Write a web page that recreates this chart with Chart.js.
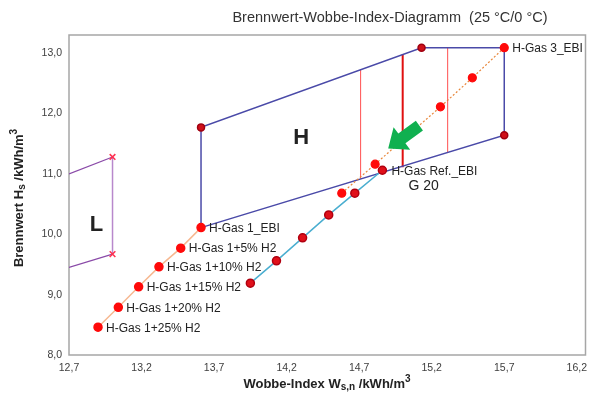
<!DOCTYPE html>
<html>
<head>
<meta charset="utf-8">
<script src="https://cdn.jsdelivr.net/npm/chart.js@4"></script>
<style>
  html, body { margin: 0; padding: 0; background: #fff; }
  canvas { display: block; }
</style>
</head>
<body>
<canvas id="c" width="591" height="394"></canvas>
<script>
// ===== DATA =====
const xTicks = [12.7, 13.2, 13.7, 14.2, 14.7, 15.2, 15.7, 16.2];
const yTicks = [8, 9, 10, 11, 12, 13];

// H-Gas 1 with H2 admixture
const h1Wobbe = [12.90, 13.04, 13.18, 13.32, 13.47, 13.61];
const h1Hs    = [8.46, 8.79, 9.13, 9.46, 9.77, 10.11];
const h1Labels = ["H-Gas 1+25% H2", "H-Gas 1+20% H2", "H-Gas 1+15% H2", "H-Gas 1+10% H2", "H-Gas 1+5% H2", "H-Gas 1_EBI"];

// H-Gas Ref. (G 20) with H2 admixture
const refWobbe = [13.95, 14.13, 14.31, 14.49, 14.67, 14.86];
const refHs    = [9.19, 9.56, 9.94, 10.32, 10.68, 11.06];

// H-Gas 3 line (dotted)
const h3Wobbe = [14.58, 14.81, 15.26, 15.48, 15.70];
const h3Hs    = [10.68, 11.16, 12.11, 12.59, 13.09];

// H-range polygon
const hPolyWobbe = [13.61, 13.61, 15.13, 15.70, 15.70, 13.61];
const hPolyHs    = [10.11, 11.77, 13.09, 13.09, 11.64, 10.11];

// red vertical limits inside H range
const limWobbe  = [14.71, 15.00, 15.31];
const limTop    = [12.73, 12.98, 13.09];
const limBottom = [10.92, 11.11, 11.35];

// L-range (clipped at axis)
const lUpperWobbe = [12.70, 13.00];
const lUpperHs    = [11.00, 11.28];
const lLowerWobbe = [12.70, 13.00];
const lLowerHs    = [9.45, 9.67];

// ===== HELPERS =====
const pts = (xs, ys) => xs.map((x, i) => ({ x, y: ys[i] }));
const fmt = (v) => v.toFixed(1).replace(".", ",");
const FONT = "'Liberation Sans', Arial, sans-serif";

function richText(ctx, parts, x, y, size) {
  // parts: [text, kind] kind: "n" | "sub" | "sup"; centered on x
  const sizes = { n: size, sub: size - 3, sup: size - 3 };
  let w = 0;
  parts.forEach(([t, k]) => { ctx.font = `bold ${sizes[k]}px ${FONT}`; w += ctx.measureText(t).width; });
  let cx = x - w / 2;
  parts.forEach(([t, k]) => {
    ctx.font = `bold ${sizes[k]}px ${FONT}`;
    const dy = k === "sub" ? 3 : k === "sup" ? -5 : 0;
    ctx.fillText(t, cx, y + dy);
    cx += ctx.measureText(t).width;
  });
}

const limDatasets = limWobbe.map((x, i) => ({
  data: [{ x, y: limBottom[i] }, { x, y: limTop[i] }],
  showLine: true,
  borderColor: i === 1 ? "#e01010" : "#ff5050",
  borderWidth: i === 1 ? 2 : 1,
  pointRadius: 0,
  order: 5
}));

const decor = {
  id: "decor",
  beforeDatasetsDraw(chart) {
    const { ctx, chartArea: a } = chart;
    ctx.save();
    ctx.strokeStyle = "#a6a6a6";
    ctx.lineWidth = 1.5;
    ctx.strokeRect(a.left, a.top, a.right - a.left, a.bottom - a.top);
    ctx.restore();
  },
  afterDraw(chart) {
    const { ctx } = chart;
    const xs = chart.scales.x, ys = chart.scales.y;
    const px = (v) => xs.getPixelForValue(v), py = (v) => ys.getPixelForValue(v);
    ctx.save();
    ctx.fillStyle = "#222";
    ctx.textBaseline = "middle";
    ctx.textAlign = "left";
    ctx.font = `12px ${FONT}`;
    h1Labels.forEach((t, i) => ctx.fillText(t, px(h1Wobbe[i]) + 8, py(h1Hs[i]) + 1));
    ctx.fillText("H-Gas 3_EBI", px(h3Wobbe[4]) + 8, py(h3Hs[4]) + 1);
    ctx.fillText("H-Gas Ref._EBI", px(refWobbe[5]) + 9, py(refHs[5]) + 1);
    ctx.font = `14px ${FONT}`;
    ctx.fillText("G 20", px(15.04), py(10.8));

    ctx.font = `bold 22px ${FONT}`;
    ctx.textAlign = "center";
    ctx.fillText("H", px(14.3), py(11.6));
    ctx.fillText("L", px(12.89), py(10.15));

    // green arrow
    const tx = px(15.115), ty = py(11.80), hx = px(14.90), hy = py(11.42);
    const ang = Math.atan2(hy - ty, hx - tx);
    const L = Math.hypot(hx - tx, hy - ty), head = 17, sw = 6, hw = 14;
    ctx.translate(tx, ty);
    ctx.rotate(ang);
    ctx.beginPath();
    ctx.moveTo(0, -sw); ctx.lineTo(L - head, -sw); ctx.lineTo(L - head, -hw);
    ctx.lineTo(L, 0);
    ctx.lineTo(L - head, hw); ctx.lineTo(L - head, sw); ctx.lineTo(0, sw);
    ctx.closePath();
    ctx.fillStyle = "#10b050";
    ctx.fill();
    ctx.setTransform(1, 0, 0, 1, 0, 0);

    // title
    ctx.fillStyle = "#333";
    ctx.font = `14.5px ${FONT}`;
    ctx.textAlign = "center";
    ctx.fillText("Brennwert-Wobbe-Index-Diagramm  (25 °C/0 °C)", 390, 18);

    // axis titles
    ctx.fillStyle = "#222";
    ctx.textAlign = "left";
    richText(ctx, [["Wobbe-Index W", "n"], ["s,n", "sub"], [" /kWh/m", "n"], ["3", "sup"]], 327, 384, 13);
    ctx.translate(19, 198);
    ctx.rotate(-Math.PI / 2);
    richText(ctx, [["Brennwert H", "n"], ["s", "sub"], [" /kWh/m", "n"], ["3", "sup"]], 0, 0, 13);
    ctx.restore();
  }
};

new Chart(document.getElementById("c"), {
  type: "scatter",
  data: {
    datasets: [
      ...limDatasets,
      { // H polygon
        data: pts(hPolyWobbe, hPolyHs), showLine: true, borderColor: "#4a4aa8", borderWidth: 1.5,
        pointRadius: [0, 3.5, 3.5, 0, 3.5, 0], pointBackgroundColor: "#d0101a", pointBorderColor: "#a00010", order: 4
      },
      { // L upper
        data: pts(lUpperWobbe, lUpperHs), showLine: true, borderColor: "#8a4aa8", borderWidth: 1.2,
        pointStyle: "crossRot", pointRadius: [0, 4], pointBorderColor: "#ff3050", pointBorderWidth: 1.5, order: 4
      },
      { // L lower
        data: pts(lLowerWobbe, lLowerHs), showLine: true, borderColor: "#8a4aa8", borderWidth: 1.2,
        pointStyle: "crossRot", pointRadius: [0, 4], pointBorderColor: "#ff3050", pointBorderWidth: 1.5, order: 4
      },
      { // L vertical
        data: [{ x: lUpperWobbe[1], y: lUpperHs[1] }, { x: lLowerWobbe[1], y: lLowerHs[1] }], showLine: true,
        borderColor: "#b888cc", borderWidth: 1.5, pointRadius: 0, order: 5
      },
      { // H-Gas 1 + H2
        data: pts(h1Wobbe, h1Hs), showLine: true, borderColor: "#f6b891", borderWidth: 1.5,
        pointRadius: 4, pointBackgroundColor: "#ff0a0a", pointBorderColor: "#ff0a0a", order: 2
      },
      { // H-Gas Ref + H2
        data: pts(refWobbe, refHs), showLine: true, borderColor: "#4aaed0", borderWidth: 1.5,
        pointRadius: 4, pointBackgroundColor: "#e0101a", pointBorderColor: "#b00010", order: 2
      },
      { // H-Gas 3 dotted
        data: pts(h3Wobbe, h3Hs), showLine: true, borderColor: "#e8863a", borderWidth: 1.2, borderDash: [2, 2],
        pointRadius: 4, pointBackgroundColor: "#ff0a0a", pointBorderColor: "#ff0a0a", order: 1
      }
    ]
  },
  options: {
    responsive: false,
    animation: false,
    layout: { padding: { top: 35, right: 5, left: 0, bottom: 0 } },
    plugins: { legend: { display: false }, tooltip: { enabled: false }, title: { display: false } },
    scales: {
      x: {
        type: "linear", min: 12.7, max: 16.26,
        afterBuildTicks: (s) => { s.ticks = xTicks.map((v) => ({ value: v })); },
        afterFit: (s) => { s.height = 39; },
        grid: { display: false, drawTicks: true, tickLength: 4, tickColor: "#808080" },
        border: { display: false },
        ticks: { callback: (v) => fmt(v), font: { size: 10.5, family: FONT }, color: "#404040", padding: 3, maxRotation: 0, autoSkip: false }
      },
      y: {
        type: "linear", min: 8, max: 13.3,
        afterBuildTicks: (s) => { s.ticks = yTicks.map((v) => ({ value: v })); },
        afterFit: (s) => { s.width = 69; },
        grid: { display: false, drawTicks: true, tickLength: 4, tickColor: "#808080" },
        border: { display: false },
        ticks: { callback: (v) => fmt(v), font: { size: 10.5, family: FONT }, color: "#404040", padding: 3 }
      }
    }
  },
  plugins: [decor]
});
</script>
</body>
</html>
